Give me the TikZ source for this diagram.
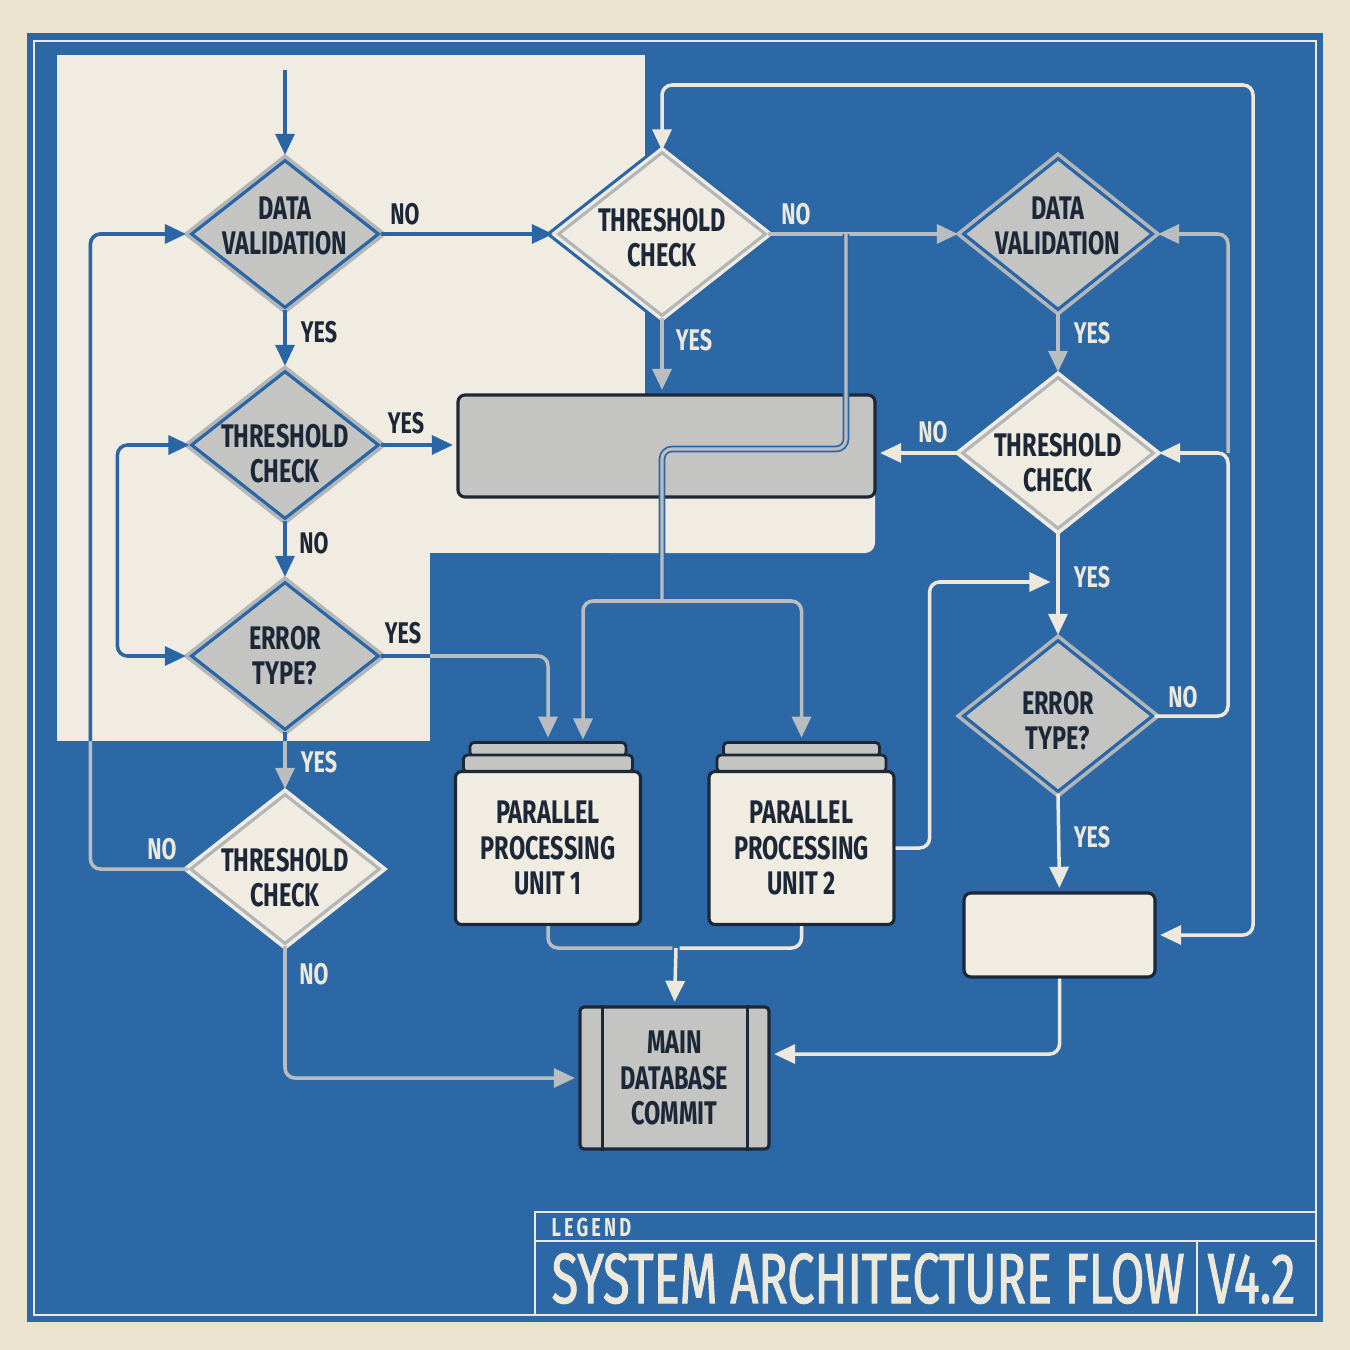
\documentclass[tikz,border=0pt]{standalone}
\usepackage{fontspec}
\usetikzlibrary{shapes.geometric,arrows.meta,positioning}
\newfontfamily\dinfont{Fira Sans}[FakeStretch=0.72]
\newfontfamily\titlefont{Fira Sans}[FakeStretch=0.685,FakeBold=1.4]
\newfontfamily\legfont{Fira Sans}[FakeStretch=0.7,LetterSpace=12]
\definecolor{paper}{HTML}{ECE3CF}
\definecolor{cream}{HTML}{F1ECE1}
\definecolor{panel}{HTML}{2B68A5}
\definecolor{navy}{HTML}{1C2838}
\definecolor{boxgray}{HTML}{C4C4C2}
\definecolor{rimgray}{HTML}{B3B6B8}
\definecolor{lineblue}{HTML}{2A66A6}
\definecolor{linegray}{HTML}{B9BDC0}
\definecolor{linecream}{HTML}{EDE8DC}

% lines that run from the cream sheet onto the blue panel
\newcommand\crosslines[1]{%
  \draw[#1,->] (D3.east) -| (P1-top.north);
  \draw[#1,->] (D4.west) -- ++(-98,0) |- (D1.west);
  \draw[#1,->] (D3.south) -- (D4.north);
}

\begin{document}
\begin{tikzpicture}[x=0.1mm, y=-0.1mm, >={Triangle[length=6pt,width=5.4pt]}]
    \tikzstyle{dtext}=[font=\dinfont\bfseries\fontsize{9.3}{10}\selectfont, text=navy, align=center, inner sep=0pt]
    \tikzstyle{diamondbase}=[diamond, minimum width=18.8mm, minimum height=14.8mm, inner sep=0pt, line width=0.9pt]
    \tikzstyle{graydia}=[diamondbase, fill=boxgray, draw=lineblue, preaction={draw=rimgray, line width=3pt}]
    \tikzstyle{creamdia}=[diamondbase, fill=cream, draw=rimgray, preaction={draw=cream, line width=3pt}]
    \tikzstyle{topdia}=[diamondbase, fill=cream, draw=rimgray, preaction={draw=lineblue, line width=4.6pt}, preaction={draw=cream, line width=2.8pt}]
    \tikzstyle{procbox}=[rectangle, rounded corners=0.6mm, fill=cream, draw=navy, line width=0.9pt, minimum width=18.5mm, minimum height=15.3mm, inner sep=0pt, font=\dinfont\bfseries\fontsize{9.3}{10}\selectfont, text=navy, align=center]
    \tikzstyle{layerbox}=[rectangle, rounded corners=0.4mm, fill=boxgray, draw=navy, line width=0.8pt, inner sep=0pt]
    \tikzstyle{dbbox}=[rectangle, rounded corners=0.4mm, fill=boxgray, draw=navy, line width=0.9pt, minimum width=18.9mm, minimum height=14.2mm, inner sep=0pt, font=\dinfont\bfseries\fontsize{9.3}{10}\selectfont, text=navy, align=center]
    \tikzstyle{blankbox}=[rectangle, rounded corners=0.7mm, draw=navy, line width=0.9pt, inner sep=0pt]
    \tikzstyle{blueline}=[draw=lineblue, line width=1pt, rounded corners=1mm, shorten >=1pt]
    \tikzstyle{grayline}=[draw=linegray, line width=1pt, rounded corners=1mm, shorten >=1pt]
    \tikzstyle{creamline}=[draw=linecream, line width=1pt, rounded corners=1mm, shorten >=1pt]
    \tikzstyle{lbl}=[font=\dinfont\bfseries\fontsize{8.5}{9}\selectfont, inner sep=0pt]
    \tikzstyle{lbldark}=[lbl, text=navy]
    \tikzstyle{lbllight}=[lbl, text=linecream]
    \useasboundingbox (0,0) rectangle (1350,1350);
    % paper, blueprint panel and cream sheet
    \fill[paper] (0,0) rectangle (1350,1350);
    \fill[panel] (27,33) rectangle (1323,1322);
    \draw[linecream, line width=0.6pt] (34,41) rectangle (1316,1315);
    \fill[cream] (57,55) rectangle (645,553);
    \fill[cream] (57,553) rectangle (430,741);
    \fill[cream, rounded corners=1mm] (600,397) rectangle (875,553);
    % left column
    \node[graydia, label={[dtext,yshift=0.8mm]center:{DATA\\VALIDATION}}] (D1) at (285,234) {};
    \node[graydia, label={[dtext,yshift=-0.9mm]center:{THRESHOLD\\CHECK}}] (D2) at (285,445) {};
    \node[graydia, label={[dtext]center:{ERROR\\TYPE?}}] (D3) at (285,656) {};
    \node[creamdia, minimum width=19mm, minimum height=15mm, label={[dtext,yshift=-0.9mm]center:{THRESHOLD\\CHECK}}] (D4) at (285,869) {};
    % top middle
    \node[topdia, minimum width=20.8mm, minimum height=16.4mm, label={[dtext,yshift=-0.4mm]center:{THRESHOLD\\CHECK}}] (D5) at (662,234) {};
    \node[blankbox, fill=boxgray, minimum width=41.7mm, minimum height=10.2mm] (GB) at (666.5,446) {};
    % right column
    \node[graydia, minimum width=19mm, minimum height=15.2mm, label={[dtext,yshift=0.8mm]center:{DATA\\VALIDATION}}] (D6) at (1058,234) {};
    \node[creamdia, minimum width=19.2mm, minimum height=15.2mm, label={[dtext,yshift=-1mm]center:{THRESHOLD\\CHECK}}] (D7) at (1058,453) {};
    \node[graydia, minimum width=19mm, minimum height=15.2mm, label={[dtext,yshift=-0.5mm]center:{ERROR\\TYPE?}}] (D8) at (1058,716) {};
    \node[blankbox, fill=cream, minimum width=19.1mm, minimum height=8.4mm] (R) at (1059.5,935) {};
    % processing units and database
    \foreach \u/\px in {1/548,2/801.5} {
      \node[layerbox, minimum width=15.6mm, minimum height=1.4mm] (P\u-top) at (\px,749.5) {};
      \node[layerbox, minimum width=16.9mm, minimum height=1.7mm] (P\u-mid) at (\px,763.5) {};
      \node[procbox] (P\u) at (\px,848) {PARALLEL\\PROCESSING\\UNIT \u};
    }
    \node[dbbox] (MDB) at (674.5,1078) {MAIN\\DATABASE\\COMMIT};
    \draw[navy, line width=0.8pt] ([xshift=2.4mm]MDB.north west) -- ([xshift=2.4mm]MDB.south west);
    \draw[navy, line width=0.8pt] ([xshift=-2.3mm]MDB.north east) -- ([xshift=-2.3mm]MDB.south east);
    % junctions
    \coordinate (start) at (285,70);
    \coordinate (jNO) at (846,234);
    \coordinate (split) at (662,601);
    \coordinate (P1in) at (583,743);
    \coordinate (jR) at (1228,453);
    \coordinate (jY) at (1054,582);
    \coordinate (jM) at (676,948);
    % connectors on the cream sheet
    \draw[blueline,->] (start) -- (D1.north);
    \draw[blueline,->] (D1.east) -- (D5.west);
    \draw[blueline,->] (D1.south) -- (D2.north);
    \draw[blueline,->] (D2.east) -- (D2.east -| GB.west);
    \draw[blueline,->] (D2.south) -- (D3.north);
    \draw[blueline,<->] (D2.west) -- ++(-72,0) |- (D3.west);
    \crosslines{grayline}
    \begin{scope}
      \clip (57,55) rectangle (645,553) (57,553) rectangle (430,741);
      \crosslines{blueline}
    \end{scope}
    % connectors on the blue panel
    \draw[grayline,->] (D5.south) -- (D5.south |- GB.north);
    \draw[grayline,->] (D5.east) -- (D6.west);
    \draw[draw=lineblue, line width=0.5pt, double=linegray, double distance=0.9pt, rounded corners=1mm] (jNO) -- ++(0,215) -| (split);
    \draw[grayline,->] (split) -| (P1in);
    \draw[grayline,->] (split) -| (P2-top.north);
    \draw[creamline,<->] (D5.north) |- (1253,85) |- (R.east);
    \draw[grayline,->] (D6.south) -- (D7.north);
    \draw[creamline,->] (D7.west) -- (D7.west -| GB.east);
    \draw[creamline,->] (D7.south) -- (D8.north);
    \draw[creamline,->] (D8.east) -| (jR) -- (D7.east);
    \draw[grayline,->] (jR) |- (D6.east);
    \draw[creamline,->] (P2.east) -- ++(34,0) |- (jY);
    \draw[creamline,->] (D8.south) -- (R.north);
    \draw[creamline,->] (R.south) |- (MDB.14);
    \draw[grayline] (P1.south) |- (jM);
    \draw[creamline] (P2.south) |- (jM);
    \draw[creamline,->] (jM) -- (MDB.north);
    \draw[grayline,->] (D4.south) |- (MDB.west);
    % branch labels
    \node[lbldark] (d1no) at (405,214) {NO};
    \node[lbldark] (d1yes) at (319,332) {YES};
    \node[lbldark] (d2yes) at (406,423) {YES};
    \node[lbldark] (d2no) at (314,543) {NO};
    \node[lbldark] (d3yes) at (403,633) {YES};
    \node[lbllight] (d3down) at (319,762) {YES};
    \node[lbllight] (d4left) at (162,849) {NO};
    \node[lbllight] (d4down) at (314,974) {NO};
    \node[lbllight] (d5yes) at (694,340) {YES};
    \node[lbllight] (d5no) at (796,214) {NO};
    \node[lbllight] (d6yes) at (1092,333) {YES};
    \node[lbllight] (d7no) at (933,432) {NO};
    \node[lbllight] (d7yes) at (1092,577) {YES};
    \node[lbllight] (d8no) at (1183,697) {NO};
    \node[lbllight] (d8yes) at (1092,837) {YES};
    % legend block
    \draw[linecream, line width=0.7pt] (535,1212) rectangle (1316,1315);
    \draw[linecream, line width=0.7pt] (535,1241) -- (1316,1241);
    \draw[linecream, line width=0.7pt] (1197,1241) -- (1197,1315);
    \node[anchor=base west, inner sep=0pt, text=linecream, font=\legfont\bfseries\fontsize{7.4}{8}\selectfont] (legend) at (551,1236) {LEGEND};
    \node[anchor=base west, inner sep=0pt, text=linecream, font=\titlefont\fontsize{20.2}{22}\selectfont] (title) at (551,1303) {SYSTEM ARCHITECTURE FLOW};
    \node[anchor=base west, inner sep=0pt, text=linecream, font=\titlefont\fontsize{20.2}{22}\selectfont] (version) at (1207,1303) {V4.2};
\end{tikzpicture}
\end{document}
